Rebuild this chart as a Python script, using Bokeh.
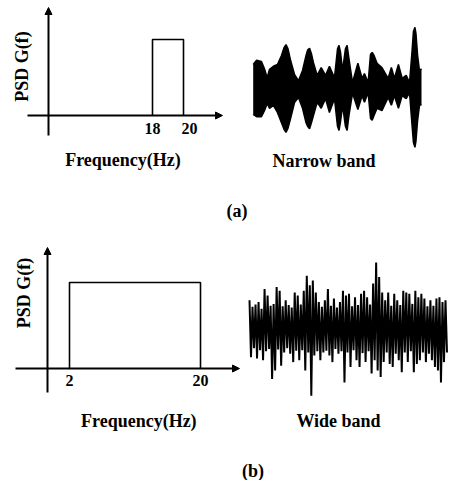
import math
from bokeh.plotting import figure
from bokeh.models import Range1d, Arrow, NormalHead, Label
from bokeh.core.properties import value
from bokeh.embed import file_html
from bokeh.resources import INLINE

# ---------------- data ----------------
# PSD panels: band edges (Hz) and PSD level (arbitrary units)
narrow_band_hz = [18, 20]
narrow_psd_level = 1.0
narrow_tick_hz = [18, 20]
narrow_tick_labels = ["18", "20"]

wide_band_hz = [2, 20]
wide_psd_level = 1.0
wide_tick_hz = [2, 20]
wide_tick_labels = ["2", "20"]

# Narrow-band time history: envelope (time in % of record)
narrow_t = [0, 2.0, 4.9, 6.7, 8.3, 9.7, 12.0, 14.4, 16.8, 18.3, 19.5, 20.7, 22.2,
            24.6, 26.9, 29.3, 31.4, 32.3, 33.5, 34.6, 35.8, 38.0, 40.4, 43.0, 45.3,
            48.3, 50.1, 51.0, 51.9, 53.1, 54.8, 55.8, 56.9, 59.0, 62.2, 64.7, 66.1,
            68.3, 69.7, 70.7, 71.8, 73.6, 76.5, 80.2, 82.1, 83.9, 86.3, 88.5, 90.9,
            92.9, 94.4, 95.2, 96.1, 96.7, 97.7, 98.8, 100]
narrow_upper = [0.40, 0.47, 0.45, 0.33, 0.18, 0.32, 0.37, 0.40, 0.55, 0.68, 0.73, 0.66,
                0.47, 0.23, 0.13, 0.30, 0.55, 0.64, 0.67, 0.58, 0.43, 0.22, 0.35, 0.22,
                0.37, 0.18, 0.66, 0.72, 0.60, 0.30, 0.66, 0.72, 0.50, 0.10, 0.42, 0.17,
                0.25, 0.10, 0.57, 0.60, 0.55, 0.42, 0.35, 0.17, 0.35, 0.17, 0.40, 0.17,
                0.22, 0.10, 0.63, 0.95, 1.02, 0.92, 0.55, 0.30, 0.33]
narrow_lower = [-0.43, -0.47, -0.47, -0.37, -0.25, -0.33, -0.28, -0.40, -0.57, -0.68,
                -0.73, -0.66, -0.50, -0.23, -0.15, -0.33, -0.57, -0.63, -0.67, -0.57,
                -0.45, -0.23, -0.33, -0.17, -0.40, -0.17, -0.63, -0.70, -0.55, -0.28,
                -0.63, -0.70, -0.45, -0.08, -0.35, -0.12, -0.23, -0.07, -0.50, -0.53,
                -0.45, -0.33, -0.37, -0.15, -0.28, -0.12, -0.33, -0.12, -0.17, -0.07,
                -0.62, -0.90, -0.98, -0.88, -0.53, -0.28, -0.27]

# Wide-band time history: samples
wide_samples = [
    0.47, -0.48, 0.36, -0.33, 0.40, -0.50, 0.44, -0.36, 0.33, -0.53,
    0.66, -0.38, 0.55, -0.34, 0.38, -0.84, 0.41, -0.70, 0.69, -0.35,
    0.63, -0.62, 0.37, -0.40, 0.47, -0.33, 0.39, -0.42, 0.35, -0.56,
    0.60, -0.37, 0.55, -0.53, 0.40, -0.36, 0.63, -0.70, 0.88, -0.40,
    0.72, -1.12, 0.80, -0.45, 0.60, -0.38, 0.44, -0.53, 0.36, -0.40,
    0.47, -0.37, 0.66, -0.45, 0.38, -0.56, 0.50, -0.34, 0.35, -0.42,
    0.44, -0.38, 0.63, -0.90, 0.55, -0.40, 0.58, -0.64, 0.37, -0.36,
    0.52, -0.53, 0.39, -0.64, 0.58, -0.41, 0.63, -0.56, 0.52, -0.38,
    0.40, -0.75, 0.75, -0.53, 1.10, -0.70, 0.86, -0.81, 0.60, -0.56,
    0.47, -0.40, 0.60, -0.59, 0.38, -0.64, 0.58, -0.42, 0.47, -0.53,
    0.39, -0.73, 0.63, -0.40, 0.60, -0.56, 0.58, -0.38, 0.41, -0.73,
    0.63, -0.59, 0.52, -0.53, 0.58, -0.40, 0.50, -0.56, 0.37, -0.42,
    0.47, -0.53, 0.38, -0.64, 0.50, -0.70, 0.52, -0.90, 0.44, -0.56,
    0.47, -0.40]
wide_idx = list(range(len(wide_samples)))

# ---------------- layout helpers ----------------
W, H = 452, 480


def LX(rx):
    return rx


def LY(ry):
    return ry


def x_range_for(d0, p0, d1, p1):
    k = (d1 - d0) / (LX(p1) - LX(p0))
    start = d0 - LX(p0) * k
    return Range1d(start=start, end=start + W * k)


def y_range_for(d0, p0, d1, p1):
    k = (d1 - d0) / (LY(p1) - LY(p0))
    def v(ly):
        return d0 + (ly - LY(p0)) * k
    return Range1d(start=v(H), end=v(0))


FONT = "Liberation Serif"
INK = "#000000"

p = figure(width=W, height=H, x_range=Range1d(0, W), y_range=Range1d(H, 0),
           x_axis_type=None, y_axis_type=None, toolbar_location=None,
           output_backend="svg", min_border=0, title=None,
           outline_line_color=None, background_fill_color="white",
           border_fill_color="white")
p.grid.visible = False

p.extra_x_ranges = {
    "fa": x_range_for(narrow_band_hz[0], 152, narrow_band_hz[1], 183),
    "fb": x_range_for(wide_band_hz[0], 69, wide_band_hz[1], 200),
    "ta": x_range_for(narrow_t[0], 252.7, narrow_t[-1], 421),
    "tb": x_range_for(wide_idx[0], 249, wide_idx[-1], 446.5),
}
p.extra_y_ranges = {
    "ga": y_range_for(0, 115, narrow_psd_level, 39),
    "gb": y_range_for(0, 368, wide_psd_level, 282),
    "aa": y_range_for(0, 88, 1, 28),
    "ab": y_range_for(0, 328, 1, 268),
}

# ---------------- axes (arrows) ----------------
def axis_arrow(x0, y0, x1, y1):
    p.add_layout(Arrow(x_start=LX(x0), y_start=LY(y0), x_end=LX(x1), y_end=LY(y1),
                       line_width=2, line_color=INK,
                       end=NormalHead(size=7, fill_color=INK, line_color=INK, line_width=1)))

axis_arrow(27, 115, 222, 115)
axis_arrow(48, 135, 48, 7)
axis_arrow(15, 368, 239, 368)
axis_arrow(47, 392, 47, 247)

# ---------------- PSD outlines ----------------
def psd_outline(band, level):
    return ([band[0], band[0], band[1], band[1]], [0, level, level, 0])

xa, ya = psd_outline(narrow_band_hz, narrow_psd_level)
p.line(xa, ya, x_range_name="fa", y_range_name="ga", line_color=INK, line_width=1.6)
xb, yb = psd_outline(wide_band_hz, wide_psd_level)
p.line(xb, yb, x_range_name="fb", y_range_name="gb", line_color=INK, line_width=1.6)

# tick labels
p.text(x=narrow_tick_hz, y=[LY(128)] * len(narrow_tick_hz), text=narrow_tick_labels,
       x_offset=[0, 6], x_range_name="fa", text_font=value(FONT), text_font_style="bold",
       text_font_size="16px", text_align="center", text_baseline="middle", text_color=INK)
p.text(x=wide_tick_hz, y=[LY(380)] * len(wide_tick_hz), text=wide_tick_labels,
       x_range_name="fb", text_font=value(FONT), text_font_style="bold",
       text_font_size="16px", text_align="center", text_baseline="middle", text_color=INK)

# ---------------- time histories ----------------
p.varea(x=narrow_t, y1=narrow_lower, y2=narrow_upper, x_range_name="ta",
        y_range_name="aa", fill_color=INK)
p.line(narrow_t, narrow_upper, x_range_name="ta", y_range_name="aa", line_color=INK, line_width=1.5)
p.line(narrow_t, narrow_lower, x_range_name="ta", y_range_name="aa", line_color=INK, line_width=1.5)

p.line(wide_idx, wide_samples, x_range_name="tb", y_range_name="ab",
       line_color=INK, line_width=2.0)

# ---------------- texts ----------------
def label(text, rx, ry, size="18px", angle=0.0):
    p.add_layout(Label(x=LX(rx), y=LY(ry), text=text, text_font=FONT,
                       text_font_style="bold", text_font_size=size, text_color=INK,
                       text_align="center", text_baseline="middle", angle=angle))

label("PSD G(f)", 21.5, 66, angle=math.pi / 2)
label("Frequency(Hz)", 122.5, 159)
label("Narrow band", 323.5, 160)
label("(a)", 236.5, 210.5)
label("PSD G(f)", 23.5, 292.5, angle=math.pi / 2)
label("Frequency(Hz)", 138.3, 420)
label("Wide band", 338, 420.5)
label("(b)", 252.5, 470.5)

open("out.html", "w").write(file_html(p, INLINE))
